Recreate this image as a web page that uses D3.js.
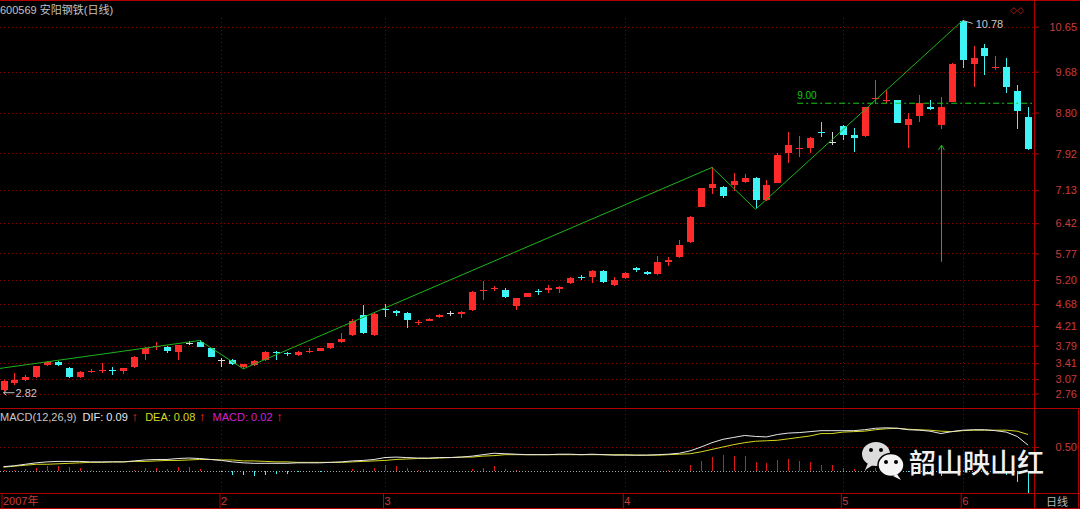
<!DOCTYPE html>
<html><head><meta charset="utf-8">
<script src="https://cdn.jsdelivr.net/npm/d3@7"></script>
<style>html,body{margin:0;padding:0;background:#000;overflow:hidden}svg{display:block}</style>
</head><body>
<svg id="c" width="1080" height="509"></svg>
<script>
// ---------- data ----------
const openP=[2.83,2.99,3.06,3.12,3.37,3.44,3.31,3.11,3.22,3.26,
3.27,3.25,3.32,3.61,3.77,3.77,3.66,3.85,3.87,3.73,
3.49,3.49,3.34,3.37,3.48,3.65,3.63,3.58,3.66,3.68,
3.73,3.87,4.02,4.45,4.02,4.57,4.54,4.50,4.28,4.32,
4.40,4.48,4.46,4.55,4.97,5.00,4.98,4.64,4.84,4.96,
4.99,5.00,5.13,5.26,5.27,5.40,5.09,5.24,5.46,5.38,
5.32,5.59,5.69,6.01,6.78,7.17,7.21,7.24,7.31,7.40,
6.92,7.29,7.94,8.02,8.04,8.39,8.17,8.51,8.32,8.29,
9.09,9.06,9.06,8.53,8.73,8.92,8.53,9.03,10.76,9.84,
10.19,9.78,9.79,9.26,8.71];
const highP=[3.04,3.19,3.16,3.36,3.45,3.45,3.32,3.24,3.29,3.41,
3.34,3.31,3.56,3.77,3.87,3.78,3.81,3.88,3.90,3.74,
3.53,3.50,3.40,3.47,3.67,3.67,3.66,3.67,3.73,3.74,
3.85,4.05,4.36,4.66,4.48,4.68,4.56,4.51,4.33,4.39,
4.47,4.54,4.53,4.96,5.18,5.07,5.03,4.82,4.92,5.00,
5.09,5.08,5.27,5.31,5.41,5.42,5.27,5.37,5.48,5.39,
5.72,5.69,6.06,6.57,7.18,7.62,7.23,7.51,7.48,7.41,
7.36,7.92,8.38,8.30,8.27,8.60,8.38,8.53,8.46,8.93,
9.50,9.28,9.07,8.78,9.18,9.07,9.13,9.86,10.78,10.23,
10.27,10.02,9.98,9.39,8.91];
const lowP=[2.82,2.94,3.03,3.09,3.36,3.35,3.10,3.10,3.19,3.19,
3.16,3.18,3.31,3.49,3.69,3.62,3.48,3.81,3.75,3.55,
3.34,3.37,3.29,3.35,3.46,3.49,3.56,3.57,3.62,3.67,
3.72,3.84,4.00,4.03,4.00,4.41,4.42,4.16,4.23,4.31,
4.39,4.42,4.38,4.53,4.77,4.96,4.82,4.56,4.83,4.88,
4.92,4.93,5.12,5.20,5.13,5.14,5.08,5.22,5.38,5.30,
5.31,5.50,5.68,6.00,6.77,7.04,6.97,7.12,7.29,6.72,
6.90,7.28,7.72,7.85,7.94,8.28,8.10,8.21,7.96,8.28,
8.98,9.00,8.57,8.03,8.60,8.85,8.44,9.02,9.75,9.36,
9.61,9.72,9.23,8.44,7.99];
const closeP=[3.03,3.06,3.12,3.35,3.44,3.37,3.11,3.23,3.25,3.27,
3.25,3.30,3.55,3.73,3.79,3.67,3.80,3.85,3.77,3.55,
3.49,3.39,3.39,3.46,3.66,3.63,3.60,3.66,3.68,3.73,
3.84,3.94,4.32,4.05,4.47,4.55,4.49,4.33,4.30,4.36,
4.45,4.48,4.52,4.95,4.99,5.03,4.84,4.81,4.91,4.94,
5.02,5.06,5.24,5.24,5.40,5.16,5.20,5.36,5.41,5.32,
5.59,5.62,5.95,6.56,7.17,7.26,7.01,7.33,7.40,6.92,
7.24,7.89,8.10,8.04,8.26,8.37,8.17,8.32,8.25,8.91,
9.11,9.08,8.58,8.66,9.01,8.88,8.93,9.84,9.93,9.97,
10.02,9.79,9.34,8.84,8.01];
const difV=[0.09,0.11,0.14,0.17,0.19,0.20,0.20,0.20,0.19,0.19,
0.19,0.19,0.21,0.23,0.24,0.24,0.26,0.27,0.26,0.24,
0.22,0.19,0.17,0.16,0.16,0.16,0.16,0.17,0.17,0.17,
0.18,0.19,0.21,0.22,0.24,0.28,0.29,0.28,0.27,0.27,
0.28,0.28,0.29,0.31,0.34,0.37,0.36,0.35,0.34,0.34,
0.34,0.35,0.35,0.34,0.35,0.34,0.33,0.33,0.33,0.33,
0.34,0.35,0.37,0.42,0.50,0.59,0.66,0.70,0.74,0.72,
0.71,0.76,0.79,0.80,0.82,0.84,0.84,0.84,0.84,0.86,
0.89,0.90,0.89,0.86,0.85,0.83,0.78,0.82,0.85,0.86,
0.86,0.84,0.81,0.72,0.54];
const deaV=[0.08,0.10,0.12,0.14,0.14,0.15,0.16,0.17,0.18,0.18,
0.19,0.19,0.20,0.20,0.21,0.22,0.22,0.23,0.24,0.24,
0.23,0.23,0.21,0.21,0.20,0.19,0.19,0.18,0.18,0.18,
0.18,0.18,0.19,0.20,0.21,0.22,0.24,0.25,0.26,0.26,
0.27,0.28,0.29,0.29,0.31,0.32,0.34,0.34,0.34,0.34,
0.34,0.34,0.34,0.34,0.34,0.34,0.34,0.34,0.33,0.33,
0.33,0.34,0.35,0.36,0.40,0.45,0.50,0.55,0.59,0.62,
0.63,0.64,0.67,0.70,0.73,0.78,0.78,0.81,0.82,0.83,
0.86,0.88,0.89,0.87,0.86,0.85,0.83,0.82,0.84,0.85,
0.85,0.85,0.85,0.83,0.76];
const macdV=[0.02,0.03,0.04,0.06,0.10,0.10,0.08,0.06,0.02,0.01,
0.00,-0.01,0.02,0.06,0.06,0.04,0.08,0.08,0.04,0.00,
-0.02,-0.08,-0.08,-0.10,-0.08,-0.06,-0.06,-0.02,-0.02,-0.03,
0.00,0.01,0.04,0.04,0.06,0.12,0.10,0.06,0.02,0.02,
0.01,0.00,0.00,0.04,0.06,0.10,0.04,0.02,0.00,0.01,
-0.01,0.01,0.01,-0.01,0.01,0.00,-0.01,-0.01,0.00,-0.01,
0.01,0.02,0.04,0.12,0.20,0.29,0.33,0.31,0.31,0.19,
0.16,0.23,0.24,0.21,0.19,0.12,0.12,0.06,0.04,0.05,
0.06,0.04,0.00,-0.03,-0.02,-0.03,-0.10,0.00,0.03,0.02,
0.01,-0.02,-0.08,-0.22,-0.45];
const priceTicks=[10.65,9.68,8.80,7.92,7.13,6.42,5.77,5.20,4.68,4.21,3.79,3.41,3.07,2.76];
const macdTicks=[0.50];
const monthStarts=[0,20,35,57,77,88];
const monthLabels=["2007年","2","3","4","5","6"];
const zigIdx=[0,18,22,65,69,88];
const zigVal=[3.31,3.90,3.29,7.62,6.72,10.78];
const levelValue=9.00, levelFrom=73;
const arrowIdx=86, arrowFrom=5.59, arrowTo=8.10;

// ---------- layout ----------
const svg=d3.select("#c");
const N=openP.length;
const RIGHT=1034;
const x=d3.scalePoint().domain(d3.range(N)).range([3.5,1028.1]);
const yP=d3.scaleLinear().domain([2.76,10.65]).range([393.5,26.5]);
const yM=d3.scaleLinear().domain([0,0.5]).range([471,447]);
const RED="#ff2a2a", CYAN="#3ff4f4", WHITE="#d8d8d8", GRID="#8a0000", BORDER="#b00000", LBL="#c83c3c";
const FONT="'Liberation Sans',Arial,sans-serif";

svg.append("rect").attr("width",1080).attr("height",509).attr("fill","#000");

// grid: price
const g=svg.append("g").attr("shape-rendering","crispEdges");
g.selectAll(".hp").data(priceTicks).join("line")
 .attr("x1",0).attr("x2",RIGHT).attr("y1",d=>Math.round(yP(d))+0.5).attr("y2",d=>Math.round(yP(d))+0.5)
 .attr("stroke",GRID).attr("stroke-dasharray","1,3");
g.selectAll(".hm").data(macdTicks).join("line")
 .attr("x1",0).attr("x2",RIGHT).attr("y1",d=>Math.round(yM(d))+0.5).attr("y2",d=>Math.round(yM(d))+0.5)
 .attr("stroke",GRID).attr("stroke-dasharray","1,3");
// vertical month lines
g.selectAll(".vm").data(monthStarts.slice(1)).join("line")
 .attr("x1",d=>Math.round(x(d))+0.5).attr("x2",d=>Math.round(x(d))+0.5)
 .attr("y1",18).attr("y2",493).attr("stroke",GRID).attr("stroke-dasharray","1,3");
// zero line
g.append("line").attr("x1",0).attr("x2",RIGHT).attr("y1",Math.round(yM(0))+0.5).attr("y2",Math.round(yM(0))+0.5)
 .attr("stroke","#9aa8b0").attr("stroke-dasharray","1,2");

// borders
const b=svg.append("g").attr("stroke",BORDER).attr("shape-rendering","crispEdges");
b.append("line").attr("x1",0).attr("x2",1080).attr("y1",0.5).attr("y2",0.5);
b.append("line").attr("x1",0).attr("x2",1080).attr("y1",408.5).attr("y2",408.5);
b.append("line").attr("x1",0).attr("x2",1080).attr("y1",493.5).attr("y2",493.5);
b.append("line").attr("x1",0).attr("x2",1080).attr("y1",508.5).attr("y2",508.5);
b.append("line").attr("x1",RIGHT+0.5).attr("x2",RIGHT+0.5).attr("y1",0).attr("y2",509);
b.append("line").attr("x1",1078.5).attr("x2",1078.5).attr("y1",408).attr("y2",509);

// candles
const col=i=>closeP[i]>openP[i]?RED:(closeP[i]<openP[i]?CYAN:WHITE);
const cg=svg.append("g").attr("shape-rendering","crispEdges");
const idx=d3.range(N);
cg.selectAll(".wick").data(idx).join("line")
 .attr("x1",i=>Math.round(x(i))+0.5).attr("x2",i=>Math.round(x(i))+0.5)
 .attr("y1",i=>yP(highP[i])).attr("y2",i=>yP(lowP[i])).attr("stroke",col);
cg.selectAll(".body").data(idx).join("rect")
 .attr("x",i=>Math.round(x(i))-3).attr("width",7)
 .attr("y",i=>yP(Math.max(openP[i],closeP[i])))
 .attr("height",i=>Math.max(1,Math.abs(yP(openP[i])-yP(closeP[i]))))
 .attr("fill",col);

// zigzag
const zl=d3.line().x(d=>x(d[0])).y(d=>yP(d[1]));
svg.append("path").attr("d",zl(zigIdx.map((d,i)=>[d,zigVal[i]])))
 .attr("fill","none").attr("stroke","#1cb41c").attr("stroke-width",1);
{
 const x0=x(zigIdx[0]),y0=yP(zigVal[0]),x1=x(zigIdx[1]),y1=yP(zigVal[1]);
 const s=(y1-y0)/(x1-x0);
 svg.append("line").attr("x1",0).attr("y1",y0-s*x0).attr("x2",x0).attr("y2",y0).attr("stroke","#1cb41c");
}

// 9.00 level
svg.append("line").attr("x1",x(levelFrom)-2).attr("x2",RIGHT-2)
 .attr("y1",yP(levelValue)).attr("y2",yP(levelValue))
 .attr("stroke","#19c819").attr("stroke-dasharray","6,3,2,3");
svg.append("text").attr("x",x(levelFrom)-2).attr("y",yP(levelValue)-4)
 .attr("fill","#19c819").attr("font-family",FONT).attr("font-size",10).text(levelValue.toFixed(2));

// green arrow
{
 const ax=Math.round(x(arrowIdx))+0.5;
 svg.append("line").attr("x1",ax).attr("x2",ax).attr("y1",yP(arrowFrom)).attr("y2",yP(arrowTo))
  .attr("stroke","#19b419");
 svg.append("path").attr("d",`M${ax-3},${yP(arrowTo)+5}L${ax},${yP(arrowTo)}L${ax+3},${yP(arrowTo)+5}`)
  .attr("fill","none").attr("stroke","#19b419");
}

// high / low labels
{
 const hi=d3.maxIndex(highP);
 const hx=x(hi),hy=yP(highP[hi]);
 svg.append("line").attr("x1",hx).attr("y1",hy).attr("x2",hx+10).attr("y2",hy+3).attr("stroke","#c0c0c0");
 svg.append("text").attr("x",hx+13).attr("y",hy+8).attr("fill","#c8c8c8")
  .attr("font-family",FONT).attr("font-size",11).text(highP[hi].toFixed(2));
 const lo=d3.minIndex(lowP);
 const lx=x(lo),ly=yP(lowP[lo])+2;
 svg.append("path").attr("d",`M${lx+11},${ly}H${lx}M${lx+3},${ly-2.5}L${lx},${ly}L${lx+3},${ly+2.5}`)
  .attr("fill","none").attr("stroke","#c0c0c0");
 svg.append("text").attr("x",lx+12).attr("y",ly+4).attr("fill","#c8c8c8")
  .attr("font-family",FONT).attr("font-size",11).text(lowP[lo].toFixed(2));
}

// MACD lines and histogram
const mg=svg.append("g").attr("shape-rendering","crispEdges");
mg.selectAll(".hb").data(idx).join("line")
 .attr("x1",i=>Math.round(x(i))+0.5).attr("x2",i=>Math.round(x(i))+0.5)
 .attr("y1",yM(0)).attr("y2",i=>yM(macdV[i]))
 .attr("stroke",i=>macdV[i]>=0?"#e01818":CYAN);
const ml=arr=>d3.line().x((d,i)=>x(i)).y(d=>yM(d))(arr);
svg.append("path").attr("d",ml(deaV)).attr("fill","none").attr("stroke","#d8d820");
svg.append("path").attr("d",ml(difV)).attr("fill","none").attr("stroke","#e8e8e8");

// right axes
const ra=svg.append("g").attr("transform",`translate(${RIGHT},0)`)
 .call(d3.axisRight(yP).tickValues(priceTicks).tickFormat(d3.format(".2f")).tickSize(5).tickSizeOuter(0));
const ra2=svg.append("g").attr("transform",`translate(${RIGHT},0)`)
 .call(d3.axisRight(yM).tickValues(macdTicks).tickFormat(d3.format(".2f")).tickSize(5).tickSizeOuter(0));
[ra,ra2].forEach(a=>{
 a.select(".domain").remove();
 a.selectAll("line").attr("stroke",BORDER);
 a.selectAll("text").attr("x",43).attr("text-anchor","end").attr("fill",LBL)
  .attr("font-family",FONT).attr("font-size",11);
});

// bottom axis
const ba=svg.append("g").attr("transform","translate(0,494)")
 .call(d3.axisBottom(x).tickValues(monthStarts).tickFormat((d,i)=>monthLabels[i]).tickSize(15).tickSizeOuter(0));
ba.select(".domain").remove();
ba.selectAll("line").attr("stroke",BORDER).attr("transform","translate(-2,0)");
ba.selectAll("text").attr("text-anchor","start").attr("dx",-1).attr("y",3).attr("dy","0.71em")
 .attr("fill",LBL).attr("font-family","'Liberation Sans','Noto Sans CJK SC',sans-serif").attr("font-size",11);
svg.append("text").attr("x",1046).attr("y",506).attr("fill","#b8b8b8")
 .attr("font-family","'Noto Sans CJK SC',sans-serif").attr("font-size",11).text("日线");

// title
svg.append("text").attr("x",0).attr("y",14).attr("fill","#c0c0c0")
 .attr("font-family","'Liberation Sans','Noto Sans CJK SC',sans-serif").attr("font-size",11)
 .text("600569 安阳钢铁(日线)");
svg.append("text").attr("x",1010).attr("y",13).attr("fill","#c02020")
 .attr("font-family","'DejaVu Sans',sans-serif").attr("font-size",9).text("◇◇");

// MACD header
const ht=svg.append("text").attr("x",0).attr("y",421).attr("font-family",FONT).attr("font-size",11);
const seg=[["MACD(12,26,9)  ","#c8c8c8",11],["DIF: "+difV[0].toFixed(2),"#e8e8e8",11],[" ↑  ",RED,13],
 ["DEA: "+deaV[0].toFixed(2),"#d8d820",11],[" ↑  ",RED,13],["MACD: "+macdV[0].toFixed(2),"#d020d0",11],[" ↑",RED,13]];
seg.forEach(s=>ht.append("tspan").attr("fill",s[1]).attr("font-size",s[2]).attr("xml:space","preserve").text(s[0]));

// watermark
const wm=svg.append("g");
wm.append("ellipse").attr("cx",876).attr("cy",454).attr("rx",14).attr("ry",12).attr("fill","#dcdcdc");
wm.append("path").attr("d","M868,463 L865,470 L873,465 Z").attr("fill","#dcdcdc");
wm.append("circle").attr("cx",871).attr("cy",450).attr("r",2).attr("fill","#000");
wm.append("circle").attr("cx",881).attr("cy",450).attr("r",2).attr("fill","#000");
wm.append("ellipse").attr("cx",891).attr("cy",465).attr("rx",13).attr("ry",11.5).attr("fill","#f4f4f4").attr("stroke","#000").attr("stroke-width",1.5);
wm.append("path").attr("d","M897,474 L901,480 L893,476 Z").attr("fill","#f4f4f4");
wm.append("circle").attr("cx",886).attr("cy",462).attr("r",2).attr("fill","#000");
wm.append("circle").attr("cx",896).attr("cy",462).attr("r",2).attr("fill","#000");
wm.append("text").attr("x",909).attr("y",473).attr("fill","#f0f0f0")
 .attr("font-family","'Noto Sans CJK SC',sans-serif").attr("font-size",27).attr("font-weight",500)
 .text("韶山映山红");
</script>
</body></html>
